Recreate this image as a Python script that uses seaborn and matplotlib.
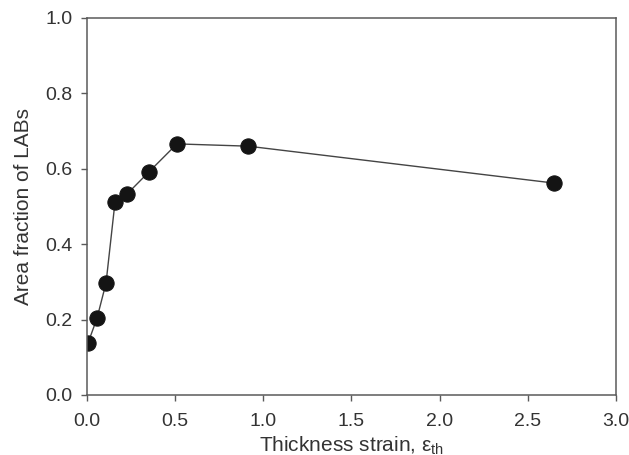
import numpy as np
import pandas as pd
import matplotlib
matplotlib.use("Agg")
import matplotlib.pyplot as plt
import seaborn as sns

# ---------- data ----------
strain = [0.006, 0.057, 0.108, 0.159, 0.227, 0.352, 0.51, 0.913, 2.65]
lab_fraction = [0.138, 0.204, 0.297, 0.512, 0.533, 0.592, 0.666, 0.660, 0.562]
x_ticks = [0.0, 0.5, 1.0, 1.5, 2.0, 2.5, 3.0]
y_ticks = [0.0, 0.2, 0.4, 0.6, 0.8, 1.0]

sns.set_style("ticks")
plt.rcParams["font.family"] = ["Liberation Sans", "DejaVu Sans"]
plt.rcParams["mathtext.fontset"] = "custom"
plt.rcParams["mathtext.rm"] = "Liberation Sans"
plt.rcParams["mathtext.it"] = "Liberation Sans:italic"

df = pd.DataFrame({"strain": strain, "frac": lab_fraction})

fig = plt.figure(figsize=(6.29, 4.55), dpi=100)
ax = fig.add_axes([0.1383, 0.1319, 0.841, 0.8286])

spine_col = "#5a5a5a"
sns.lineplot(data=df, x="strain", y="frac", ax=ax, color="#444444",
             linewidth=1.0, marker="o", markersize=11,
             markerfacecolor="#141414", markeredgecolor="#141414")

ax.set_xlim(0, 3.0)
ax.set_ylim(0, 1.0)
ax.set_xticks(x_ticks)
ax.set_yticks(y_ticks)
ax.set_xticklabels([f"{t:.1f}" for t in x_ticks])
ax.set_yticklabels([f"{t:.1f}" for t in y_ticks])
ax.set_xlabel(r"Thickness strain, $\mathregular{\varepsilon_{th}}$",
              fontsize=15, color="#333333", labelpad=3)
ax.set_ylabel("Area fraction of LABs", fontsize=15, color="#333333",
              labelpad=9)

for s in ax.spines.values():
    s.set_visible(True)
    s.set_color(spine_col)
    s.set_linewidth(1.1)
ax.tick_params(direction="out", length=4, width=1.0, color=spine_col,
               labelsize=14, labelcolor="#333333", pad=6.5)
ax.tick_params(axis="x", pad=9)

fig.savefig("out.png", dpi=100)
